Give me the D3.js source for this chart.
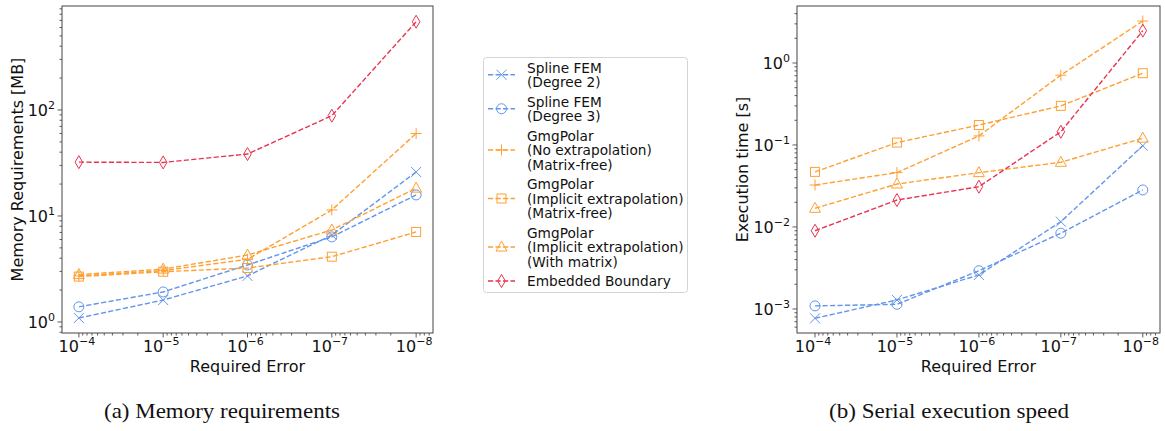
<!DOCTYPE html>
<html>
<head>
<meta charset="utf-8">
<script src="https://cdn.jsdelivr.net/npm/d3@7"></script>
<style>
  html, body { margin: 0; padding: 0; background: #fff; }
  svg { display: block; }
</style>
</head>
<body>
<svg id="chart" width="1165" height="431"></svg>
<script>
// ---------------- data ----------------
const requiredErrors = [1e-4, 1e-5, 1e-6, 1e-7, 1e-8];
const seriesNames = [
  ["Spline FEM", "(Degree 2)"],
  ["Spline FEM", "(Degree 3)"],
  ["GmgPolar", "(No extrapolation)", "(Matrix-free)"],
  ["GmgPolar", "(Implicit extrapolation)", "(Matrix-free)"],
  ["GmgPolar", "(Implicit extrapolation)", "(With matrix)"],
  ["Embedded Boundary"]
];
// memory requirements [MB]
const memSplineDeg2      = [1.09, 1.61, 2.72, 6.6, 26.0];
const memSplineDeg3      = [1.39, 1.92, 3.45, 6.35, 15.8];
const memGmgNoExtrap     = [2.72, 3.05, 3.9, 11.4, 60];
const memGmgImplicitFree = [2.68, 2.98, 3.23, 4.13, 7.07];
const memGmgImplicitMat  = [2.8, 3.15, 4.28, 7.37, 18.3];
const memEmbedded        = [32.2, 32.0, 38.4, 88.3, 680];
// serial execution time [s]
const timeSplineDeg2      = [0.00077, 0.00129, 0.0026, 0.0116, 0.098];
const timeSplineDeg3      = [0.00109, 0.00114, 0.00293, 0.0084, 0.0283];
const timeGmgNoExtrap     = [0.0325, 0.046, 0.129, 0.71, 3.25];
const timeGmgImplicitFree = [0.047, 0.107, 0.175, 0.30, 0.75];
const timeGmgImplicitMat  = [0.0169, 0.0334, 0.046, 0.0615, 0.121];
const timeEmbedded        = [0.0090, 0.0213, 0.031, 0.145, 2.48];

const xTickValues = [1e-4, 1e-5, 1e-6, 1e-7, 1e-8];
const memTickValues = [1, 10, 100];
const timeTickValues = [1e-3, 1e-2, 1e-1, 1];
const captions = ["(a) Memory requirements", "(b) Serial execution speed"];

// ---------------- styles ----------------
const BLUE = "#6495ed", ORANGE = "#ffa032", RED = "#e8334f";
const styles = [
  {color: BLUE, marker: "x"},
  {color: BLUE, marker: "o"},
  {color: ORANGE, marker: "+"},
  {color: ORANGE, marker: "s"},
  {color: ORANGE, marker: "^"},
  {color: RED, marker: "d"}
];

const svg = d3.select("#chart");
const FONT = "DejaVu Sans, sans-serif";

function drawMarker(g, type, cx, cy, color) {
  const s = g.append("g").attr("transform", `translate(${cx},${cy})`)
    .attr("fill", "none").attr("stroke", color).attr("stroke-width", 1);
  if (type === "x") {
    s.append("path").attr("d", "M-5,-5L5,5M-5,5L5,-5");
  } else if (type === "+") {
    s.append("path").attr("d", "M-5.5,0L5.5,0M0,-5.5L0,5.5");
  } else if (type === "o") {
    s.append("circle").attr("r", 5);
  } else if (type === "s") {
    s.append("rect").attr("x", -4.5).attr("y", -4.5).attr("width", 9).attr("height", 9);
  } else if (type === "^") {
    s.append("path").attr("d", "M0,-6L5.5,4L-5.5,4Z");
  } else if (type === "d") {
    s.append("path").attr("d", "M0,-6.5L3.8,0L0,6.5L-3.8,0Z");
  }
}

function powLabel(sel, v) {
  const e = Math.round(Math.log10(v));
  const expStr = e < 0 ? "\u2212" + Math.abs(e) : String(e);
  sel.append("tspan").text("10");
  sel.append("tspan").attr("font-size", 11).attr("dy", -7).text(expStr);
}

function drawPanel(cfg) {
  const {x0, x1, y0, y1, xDomain, yDomain, data, yTicks, yLabel, yLabelX} = cfg;
  const x = d3.scaleLog().domain(xDomain).range([x0, x1]);
  const y = d3.scaleLog().domain(yDomain).range([y1, y0]);
  const g = svg.append("g");

  const ticksG = g.append("g").attr("stroke", "#333").attr("stroke-width", 0.8);
  function minorVals(dom) {
    const lo = Math.min(...dom), hi = Math.max(...dom);
    const out = [];
    for (let k = Math.floor(Math.log10(lo)); k <= Math.ceil(Math.log10(hi)); k++) {
      for (let m = 2; m <= 9; m++) {
        const v = m * Math.pow(10, k);
        if (v >= lo && v <= hi) out.push(v);
      }
    }
    return out;
  }
  minorVals(xDomain).forEach(v => {
    ticksG.append("line").attr("x1", x(v)).attr("x2", x(v)).attr("y1", y1).attr("y2", y1 + 2.5);
  });
  minorVals(yDomain).forEach(v => {
    ticksG.append("line").attr("y1", y(v)).attr("y2", y(v)).attr("x1", x0).attr("x2", x0 - 2.5);
  });
  xTickValues.forEach(v => {
    ticksG.append("line").attr("x1", x(v)).attr("x2", x(v)).attr("y1", y1).attr("y2", y1 + 4.5);
    const t = g.append("text").attr("x", x(v) - 2).attr("y", y1 + 19)
      .attr("text-anchor", "middle").attr("font-family", FONT).attr("font-size", 16).attr("fill", "#111");
    powLabel(t, v);
  });
  yTicks.forEach(v => {
    ticksG.append("line").attr("y1", y(v)).attr("y2", y(v)).attr("x1", x0).attr("x2", x0 - 4.5);
    const t = g.append("text").attr("x", x0 - 7).attr("y", y(v) + 6.5)
      .attr("text-anchor", "end").attr("font-family", FONT).attr("font-size", 16).attr("fill", "#111");
    powLabel(t, v);
  });

  const line = d3.line().x((d, i) => x(requiredErrors[i])).y(d => y(d));
  data.forEach((vals, si) => {
    const st = styles[si];
    g.append("path").datum(vals).attr("d", line)
      .attr("fill", "none").attr("stroke", st.color).attr("stroke-width", 1.4)
      .attr("stroke-dasharray", "5.2,2.3");
    vals.forEach((v, i) => drawMarker(g, st.marker, x(requiredErrors[i]), y(v), st.color));
  });

  g.append("rect").attr("x", x0).attr("y", y0).attr("width", x1 - x0).attr("height", y1 - y0)
    .attr("fill", "none").attr("stroke", "#444").attr("stroke-width", 1);

  g.append("text").attr("x", (x0 + x1) / 2).attr("y", y1 + 39)
    .attr("text-anchor", "middle").attr("font-family", FONT).attr("font-size", 16).attr("fill", "#111")
    .text("Required Error");
  g.append("text").attr("transform", `translate(${yLabelX},${(y0 + y1) / 2}) rotate(-90)`)
    .attr("text-anchor", "middle").attr("font-family", FONT).attr("font-size", 16).attr("fill", "#111")
    .text(yLabel);
}

drawPanel({
  x0: 62, x1: 433, y0: 6, y1: 333,
  xDomain: [Math.pow(10, -3.8), Math.pow(10, -8.2)],
  yDomain: [Math.pow(10, -0.104), Math.pow(10, 2.981)],
  data: [memSplineDeg2, memSplineDeg3, memGmgNoExtrap, memGmgImplicitFree, memGmgImplicitMat, memEmbedded],
  yTicks: memTickValues,
  yLabel: "Memory Requirements [MB]",
  yLabelX: 23
});
drawPanel({
  x0: 797, x1: 1160, y0: 6, y1: 333,
  xDomain: [Math.pow(10, -3.78), Math.pow(10, -8.21)],
  yDomain: [Math.pow(10, -3.293), Math.pow(10, 0.695)],
  data: [timeSplineDeg2, timeSplineDeg3, timeGmgNoExtrap, timeGmgImplicitFree, timeGmgImplicitMat, timeEmbedded],
  yTicks: timeTickValues,
  yLabel: "Execution time [s]",
  yLabelX: 748
});

// ---------------- legend ----------------
const leg = svg.append("g");
leg.append("rect").attr("x", 483.5).attr("y", 57.5).attr("width", 204).attr("height", 235)
  .attr("rx", 3).attr("fill", "#fff").attr("stroke", "#d4d4d4").attr("stroke-width", 1);
const lineH = 14.5, entryGap = 19.5;
let cy = 67.5;
seriesNames.forEach((lines, si) => {
  const st = styles[si];
  const first = cy;
  lines.forEach((ln, li) => {
    leg.append("text").attr("x", 527).attr("y", cy + 5)
      .attr("font-family", FONT).attr("font-size", 13.7).attr("fill", "#111").text(ln);
    if (li < lines.length - 1) cy += lineH;
  });
  const mid = (first + cy) / 2;
  leg.append("line").attr("x1", 488).attr("x2", 515).attr("y1", mid).attr("y2", mid)
    .attr("stroke", st.color).attr("stroke-width", 1.4).attr("stroke-dasharray", "5.2,2.3");
  drawMarker(leg, st.marker, 501.5, mid, st.color);
  cy += entryGap;
});

// ---------------- captions ----------------
const capX = [222, 949];
const capW = [236, 240];
captions.forEach((c, i) => {
  svg.append("text").attr("x", capX[i]).attr("y", 418)
    .attr("text-anchor", "middle").attr("font-family", "Liberation Serif, serif")
    .attr("font-size", 21).attr("fill", "#111")
    .attr("textLength", capW[i]).attr("lengthAdjust", "spacingAndGlyphs").text(c);
});
</script>
</body>
</html>
